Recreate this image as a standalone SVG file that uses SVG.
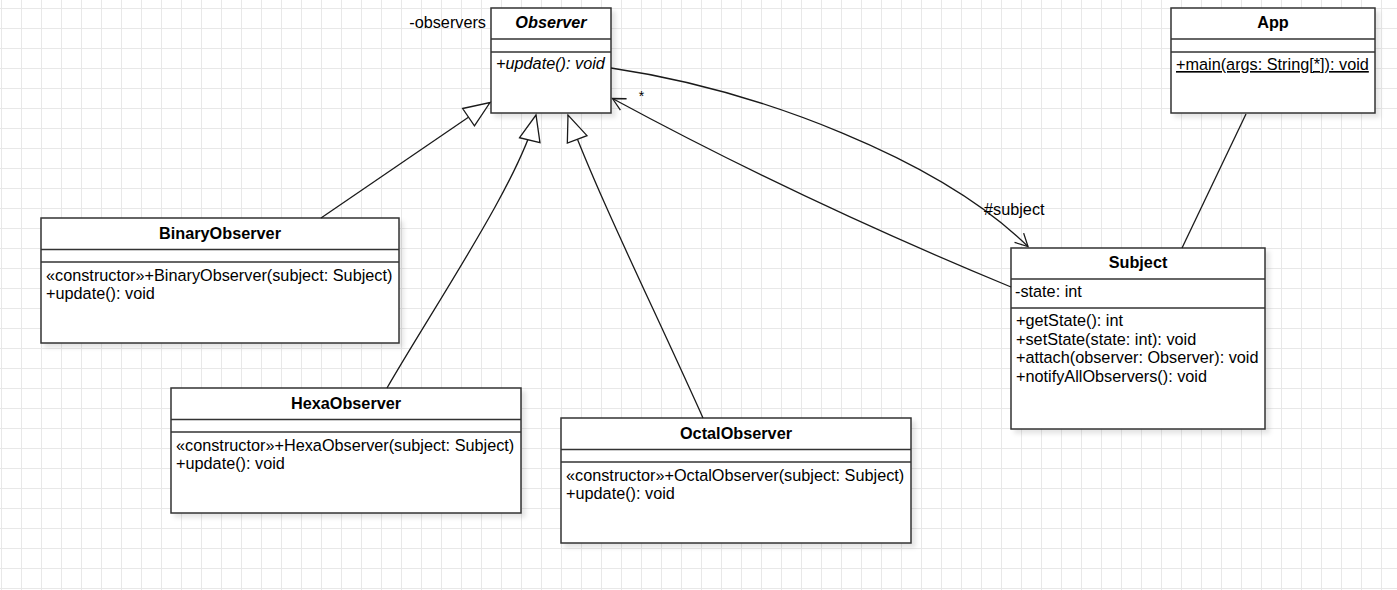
<svg xmlns="http://www.w3.org/2000/svg" width="1397" height="590" viewBox="0 0 1397 590">
<style>
text{font-family:"Liberation Sans",Arial,sans-serif;font-size:16.25px;fill:#000}
.b{font-weight:bold}
.i{font-style:italic}
.c{text-anchor:middle}
.box{fill:#fff;stroke:#333;stroke-width:1.5;filter:url(#sh)}
.sep{stroke:#333;stroke-width:1.5}
.edge{fill:none;stroke:#1a1a1a;stroke-width:1.3}
</style>
<defs>
<pattern id="grid" patternUnits="userSpaceOnUse" x="1" y="8" width="20" height="20">
<path d="M0.5 0V20M0 0.5H20" stroke="#e8e8e8" stroke-width="1" fill="none"/>
</pattern>
<filter id="sh" x="-10%" y="-10%" width="130%" height="130%">
<feDropShadow dx="4" dy="4" stdDeviation="2" flood-color="#000" flood-opacity="0.1"/>
</filter>
<marker id="tri" markerUnits="userSpaceOnUse" viewBox="-28 -12 30 24" refX="0" refY="0" markerWidth="30" markerHeight="24" orient="auto">
<path d="M-26 -10.5L0 0L-26 10.5Z" fill="#fff" stroke="#1a1a1a" stroke-width="1.3"/>
</marker>
<marker id="open" markerUnits="userSpaceOnUse" viewBox="-15 -8 17 16" refX="0" refY="0" markerWidth="17" markerHeight="16" orient="auto">
<path d="M-12.5 -6.5L0 0L-12.5 6.5" fill="none" stroke="#1a1a1a" stroke-width="1.3"/>
</marker>
</defs>
<rect width="1397" height="590" fill="#fff"/>
<rect width="1397" height="590" fill="url(#grid)"/>

<g id="observer">
<rect class="box" x="491" y="8" width="120" height="105"/>
<line class="sep" x1="491" y1="39" x2="611" y2="39"/>
<line class="sep" x1="491" y1="52" x2="611" y2="52"/>
<text class="b i c" x="551" y="28">Observer</text>
<text class="i" x="496" y="69">+update(): void</text>
</g>

<g id="app">
<rect class="box" x="1171" y="8" width="204" height="105"/>
<line class="sep" x1="1171" y1="39" x2="1375" y2="39"/>
<line class="sep" x1="1171" y1="52" x2="1375" y2="52"/>
<text class="b c" x="1273" y="28">App</text>
<text x="1176" y="70" text-decoration="underline">+main(args: String[*]): void</text>
</g>

<g id="binaryobserver">
<rect class="box" x="41" y="218" width="358" height="125"/>
<line class="sep" x1="41" y1="249.5" x2="399" y2="249.5"/>
<line class="sep" x1="41" y1="262" x2="399" y2="262"/>
<text class="b c" x="220" y="238.5">BinaryObserver</text>
<text x="46" y="280.5">«constructor»+BinaryObserver(subject: Subject)</text>
<text x="46" y="299">+update(): void</text>
</g>

<g id="hexaobserver">
<rect class="box" x="171" y="388" width="350" height="125"/>
<line class="sep" x1="171" y1="419.5" x2="521" y2="419.5"/>
<line class="sep" x1="171" y1="432" x2="521" y2="432"/>
<text class="b c" x="346" y="408.5">HexaObserver</text>
<text x="176" y="450.5">«constructor»+HexaObserver(subject: Subject)</text>
<text x="176" y="469">+update(): void</text>
</g>

<g id="octalobserver">
<rect class="box" x="561" y="418" width="350" height="125"/>
<line class="sep" x1="561" y1="449.5" x2="911" y2="449.5"/>
<line class="sep" x1="561" y1="462" x2="911" y2="462"/>
<text class="b c" x="736" y="438.5">OctalObserver</text>
<text x="566" y="480.5">«constructor»+OctalObserver(subject: Subject)</text>
<text x="566" y="499">+update(): void</text>
</g>

<g id="subject">
<rect class="box" x="1011" y="248" width="254" height="181"/>
<line class="sep" x1="1011" y1="279" x2="1265" y2="279"/>
<line class="sep" x1="1011" y1="308" x2="1265" y2="308"/>
<text class="b c" x="1138" y="268">Subject</text>
<text x="1015" y="297">-state: int</text>
<text x="1016" y="326">+getState(): int</text>
<text x="1016" y="344.5">+setState(state: int): void</text>
<text x="1016" y="363">+attach(observer: Observer): void</text>
<text x="1016" y="381.5">+notifyAllObservers(): void</text>
</g>

<g id="connectors">
<path class="edge" d="M321 218L490 102.5" marker-end="url(#tri)"/>
<path class="edge" d="M387 388C435 305 520 180 536 115" marker-end="url(#tri)"/>
<path class="edge" d="M703 418C650 300 600 200 568 115" marker-end="url(#tri)"/>
<path class="edge" d="M1011 287Q800 200 612.5 98.5" marker-end="url(#open)"/>
<path class="edge" d="M611 68C760 90 940 160 1028 246.5" marker-end="url(#open)"/>
<path class="edge" d="M1246 114L1182 248"/>
<text x="486" y="28" text-anchor="end">-observers</text>
<text x="641.5" y="101" class="c" style="font-size:14px">*</text>
<text x="984" y="215">#subject</text>
</g>
</svg>
